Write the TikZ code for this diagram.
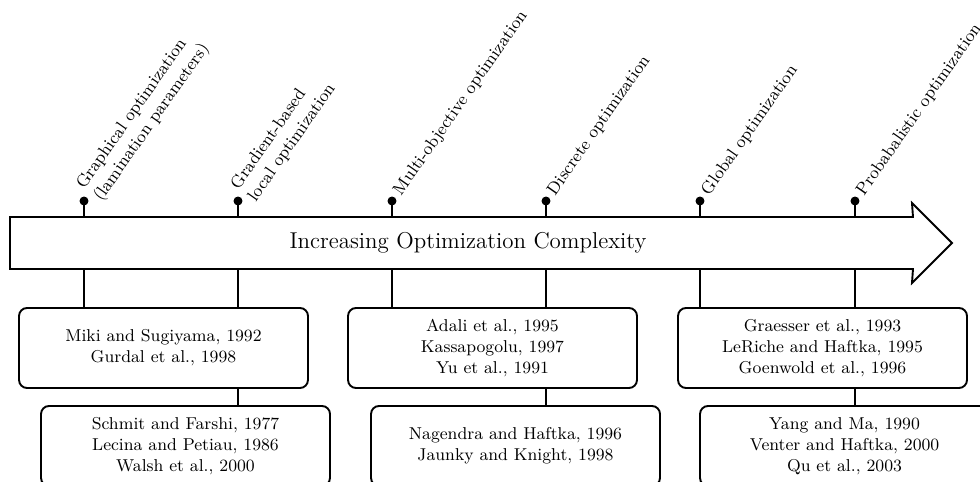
\documentclass[tikz,border=0pt]{standalone}
\begin{document}
\begin{tikzpicture}[x=0.5236pt, y=-0.5236pt, line width=1pt,
  refbox/.style={draw, rounded corners=4.2pt, minimum width=151.3pt,
    minimum height=41.9pt, align=center, font=\small, inner sep=0pt},
  tickdot/.style={circle, fill, inner sep=0pt, minimum size=4.7pt},
  steplabel/.style={rotate=55, anchor=west, align=left,
    font=\small, inner sep=1pt}]
\useasboundingbox (0,0) rectangle (980,482);

% arrow body and outline
\node[minimum width=471.8pt, minimum height=26.2pt, inner sep=0pt]
  (body) at (461.5,243) {};
\draw (body.north west) -- (body.north east) -- (912,203) -- (952,243)
  -- (912,283) -- (body.south east) -- (body.south west) -- cycle;
\node[font=\large] (title) at (468,243) {Increasing Optimization Complexity};

% milestones above the arrow
\foreach \i/\x in {1/84, 2/238, 3/392, 4/546, 5/700, 6/855} {
  \node[tickdot] (d\i) at (\x,201) {};
  \draw (d\i.center) -- (d\i |- body.north);
}
\node[steplabel] (l1) at ([shift={(4,-5)}]d1.center) {Graphical optimization\\(lamination parameters)};
\node[steplabel] (l2) at ([shift={(4,-5)}]d2.center) {Gradient-based\\local optimization};
\node[steplabel] (l3) at ([shift={(4,-5)}]d3.center) {Multi-objective optimization};
\node[steplabel] (l4) at ([shift={(4,-5)}]d4.center) {Discrete optimization};
\node[steplabel] (l5) at ([shift={(4,-5)}]d5.center) {Global optimization};
\node[steplabel] (l6) at ([shift={(4,-5)}]d6.center) {Probabalistic optimization};

% reference boxes
\node[refbox] (b1) at (163.5,348) {Miki and Sugiyama, 1992\\Gurdal et al., 1998};
\node[refbox] (b2) at (185.5,446) {Schmit and Farshi, 1977\\Lecina and Petiau, 1986\\Walsh et al., 2000};
\node[refbox] (b3) at (492.5,348) {Adali et al., 1995\\Kassapogolu, 1997\\Yu et al., 1991};
\node[refbox] (b4) at (515.5,446) {Nagendra and Haftka, 1996\\Jaunky and Knight, 1998};
\node[refbox] (b5) at (822.5,348) {Graesser et al., 1993\\LeRiche and Haftka, 1995\\Goenwold et al., 1996};
\node[refbox] (b6) at (844.5,446) {Yang and Ma, 1990\\Venter and Haftka, 2000\\Qu et al., 2003};

% connectors below the arrow
\draw (d1 |- body.south) -- (d1 |- b1.north);
\draw (d2 |- body.south) -- (d2 |- b1.north);
\draw (d3 |- body.south) -- (d3 |- b3.north);
\draw (d4 |- body.south) -- (d4 |- b3.north);
\draw (d5 |- body.south) -- (d5 |- b5.north);
\draw (d6 |- body.south) -- (d6 |- b5.north);
\draw (d2 |- b1.south) -- (d2 |- b2.north);
\draw (d4 |- b3.south) -- (d4 |- b4.north);
\draw (d6 |- b5.south) -- (d6 |- b6.north);
\end{tikzpicture}
\end{document}
